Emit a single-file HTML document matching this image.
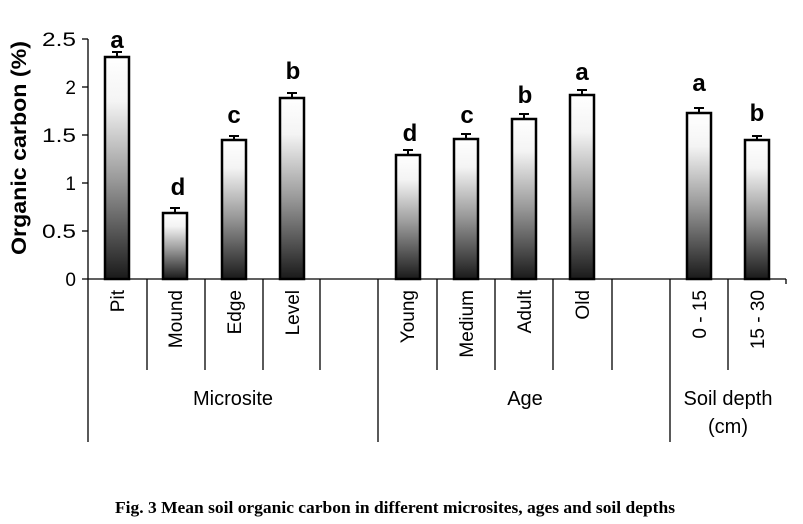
<!DOCTYPE html>
<html><head><style>body{margin:0;background:#fff}svg{display:block}</style></head><body>
<svg width="803" height="524" xmlns="http://www.w3.org/2000/svg" font-family="Liberation Sans, Arial, sans-serif">
<defs><linearGradient id="g" x1="0" y1="1" x2="0" y2="0">
<stop offset="0" stop-color="#1a1a1a"/><stop offset="0.45" stop-color="#9a9a9a"/><stop offset="0.8" stop-color="#f4f4f4"/><stop offset="1" stop-color="#fff"/></linearGradient></defs>
<g stroke="#000" stroke-width="1.3" fill="none">
<line x1="88" y1="39" x2="88" y2="442"/>
<line x1="82" y1="39" x2="88" y2="39"/><line x1="82" y1="87" x2="88" y2="87"/><line x1="82" y1="135" x2="88" y2="135"/><line x1="82" y1="183" x2="88" y2="183"/><line x1="82" y1="231" x2="88" y2="231"/>
<line x1="82" y1="279" x2="786" y2="279"/>
<line x1="147" y1="279" x2="147" y2="370"/><line x1="205" y1="279" x2="205" y2="370"/><line x1="263" y1="279" x2="263" y2="370"/><line x1="320" y1="279" x2="320" y2="370"/>
<line x1="378" y1="279" x2="378" y2="442"/>
<line x1="437" y1="279" x2="437" y2="370"/><line x1="495" y1="279" x2="495" y2="370"/><line x1="553" y1="279" x2="553" y2="370"/><line x1="612" y1="279" x2="612" y2="370"/>
<line x1="670" y1="279" x2="670" y2="442"/>
<line x1="728" y1="279" x2="728" y2="370"/><line x1="786" y1="279" x2="786" y2="284"/>
</g>
<g font-size="19" text-anchor="end" fill="#000">
<text x="76" y="46" textLength="34" lengthAdjust="spacingAndGlyphs">2.5</text><text x="76" y="94">2</text><text x="76" y="142" textLength="34" lengthAdjust="spacingAndGlyphs">1.5</text><text x="76" y="190">1</text><text x="76" y="238" textLength="34" lengthAdjust="spacingAndGlyphs">0.5</text><text x="76" y="286">0</text>
</g>
<text transform="translate(26,148) rotate(-90)" font-size="21" font-weight="bold" text-anchor="middle" textLength="214" lengthAdjust="spacingAndGlyphs">Organic carbon (%)</text>
<g stroke="#000" stroke-width="2.5" fill="url(#g)">
<rect x="105" y="57" width="24" height="222"/>
<rect x="163" y="213" width="24" height="66"/>
<rect x="222" y="140" width="24" height="139"/>
<rect x="280" y="98" width="24" height="181"/>
<rect x="396" y="155" width="24" height="124"/>
<rect x="454" y="139" width="24" height="140"/>
<rect x="512" y="119" width="24" height="160"/>
<rect x="570" y="95" width="24" height="184"/>
<rect x="687" y="113" width="24" height="166"/>
<rect x="745" y="140" width="24" height="139"/>
</g>
<g stroke="#000" stroke-width="2">
<path d="M117 57v-5M112 52h10M175 213v-5M170 208h10M234 140v-4M229 136h10M292 98v-5M287 93h10M408 155v-5M403 150h10M466 139v-5M461 134h10M524 119v-5M519 114h10M582 95v-5M577 90h10M699 113v-5M694 108h10M757 140v-4M752 136h10"/>
</g>
<g font-size="24" font-weight="bold" text-anchor="middle">
<text x="117" y="48">a</text><text x="178" y="195">d</text><text x="234" y="123">c</text><text x="293" y="79">b</text>
<text x="410" y="141">d</text><text x="467" y="123">c</text><text x="525" y="103">b</text><text x="582" y="80">a</text>
<text x="699" y="91">a</text><text x="757" y="121">b</text>
</g>
<g font-size="19" text-anchor="end">
<text transform="translate(124,290) rotate(-90)">Pit</text>
<text transform="translate(182,290) rotate(-90)">Mound</text>
<text transform="translate(241,290) rotate(-90)">Edge</text>
<text transform="translate(299,290) rotate(-90)">Level</text>
<text transform="translate(414,290) rotate(-90)">Young</text>
<text transform="translate(473,290) rotate(-90)">Medium</text>
<text transform="translate(531,290) rotate(-90)">Adult</text>
<text transform="translate(589,290) rotate(-90)">Old</text>
<text transform="translate(706,290) rotate(-90)">0 - 15</text>
<text transform="translate(764,290) rotate(-90)">15 - 30</text>
</g>
<g font-size="20" text-anchor="middle">
<text x="233" y="405">Microsite</text>
<text x="525" y="405">Age</text>
<text x="728" y="405">Soil depth</text>
<text x="728" y="433">(cm)</text>
</g>
<text x="395" y="513" font-family="Liberation Serif, serif" font-size="17" font-weight="bold" text-anchor="middle" textLength="560" lengthAdjust="spacingAndGlyphs">Fig. 3 Mean soil organic carbon in different microsites, ages and soil depths</text>
</svg>
</body></html>
